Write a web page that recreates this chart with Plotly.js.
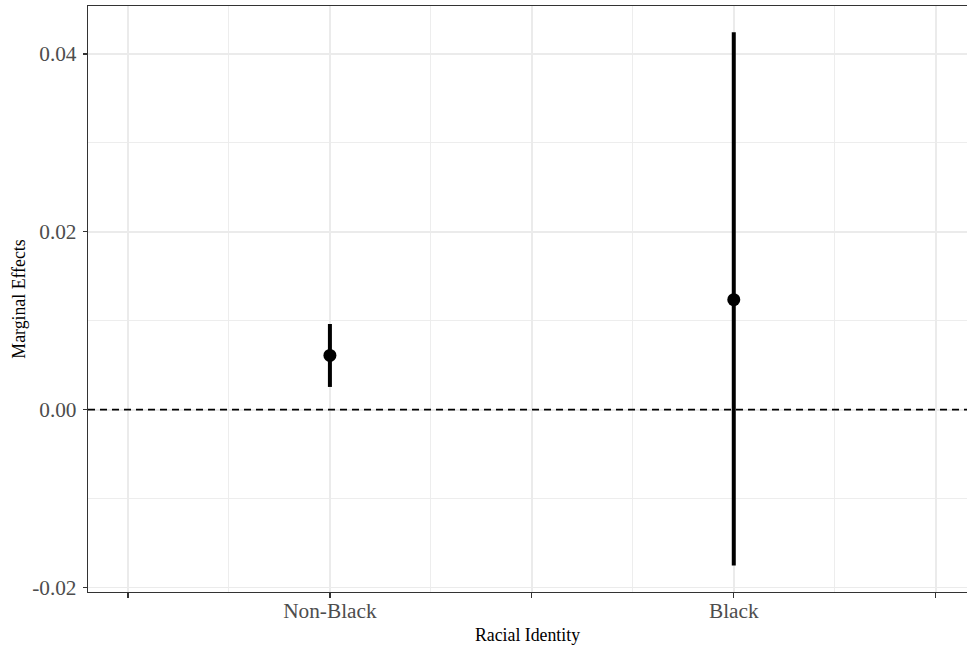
<!DOCTYPE html>
<html>
<head>
<meta charset="utf-8">
<script src="https://cdn.plot.ly/plotly-3.0.1.min.js"></script>
<style>html,body{margin:0;padding:0;background:#fff;}#chart{width:967px;height:647px;}</style>
</head>
<body>
<div id="chart"></div>
<script>
// Data
const categories = ["Non-Black", "Black"];
const positions = [1, 2];
const estimates = [0.0061, 0.01236];
const upper = [0.00963, 0.04244];
const lower = [0.00255, -0.01753];

const xTickVals = [0.5, 1, 1.5, 2, 2.5];
const xTickText = ["", "Non-Black", "", "Black", ""];
const xMinorVals = [0.75, 1.25, 1.75, 2.25];
const yTickVals = [-0.02, 0, 0.02, 0.04];
const yTickText = ["-0.02", "0.00", "0.02", "0.04"];
const yMinorVals = [-0.01, 0.01, 0.03];

const errPlus = estimates.map((v, i) => upper[i] - v);
const errMinus = estimates.map((v, i) => v - lower[i]);

const trace = {
  type: "scatter",
  mode: "markers",
  x: positions,
  y: estimates,
  text: categories,
  marker: {color: "#000000", size: 13},
  error_y: {type: "data", symmetric: false, array: errPlus, arrayminus: errMinus,
            color: "#000000", thickness: 4, width: 0},
  hoverinfo: "text+y",
  showlegend: false
};

const font = "Liberation Serif, Times New Roman, serif";

const layout = {
  width: 967, height: 647,
  margin: {l: 88, r: 0, t: 6, b: 55, pad: 0},
  paper_bgcolor: "#ffffff",
  plot_bgcolor: "#ffffff",
  font: {family: font, color: "#000000"},
  xaxis: {
    range: [0.401, 2.5775],
    tickmode: "array", tickvals: xTickVals, ticktext: xTickText,
    ticks: "outside", ticklen: 5, tickwidth: 1.2, tickcolor: "#333333",
    tickfont: {family: font, size: 21.3, color: "#4d4d4d"},
    ticklabelstandoff: -6,
    showgrid: true, gridcolor: "#ebebeb", gridwidth: 1.8,
    minor: {tickvals: xMinorVals, showgrid: true, gridcolor: "#ebebeb", gridwidth: 0.9, ticks: ""},
    showline: true, linecolor: "#333333", linewidth: 1.2, mirror: true,
    zeroline: false,
    title: {text: "Racial Identity", font: {family: font, size: 17.8, color: "#000000"}, standoff: 6}
  },
  yaxis: {
    range: [-0.02051, 0.04539],
    tickmode: "array", tickvals: yTickVals, ticktext: yTickText,
    ticks: "outside", ticklen: 4, tickwidth: 1.2, tickcolor: "#333333",
    tickfont: {family: font, size: 21.3, color: "#4d4d4d"},
    ticklabelstandoff: 2,
    showgrid: true, gridcolor: "#ebebeb", gridwidth: 1.8,
    minor: {tickvals: yMinorVals, showgrid: true, gridcolor: "#ebebeb", gridwidth: 0.9, ticks: ""},
    showline: true, linecolor: "#333333", linewidth: 1.2, mirror: false,
    zeroline: false,
    title: {text: "Marginal Effects", font: {family: font, size: 17.8, color: "#000000"}, standoff: 2}
  },
  shapes: [{
    type: "line", xref: "paper", x0: 0, x1: 1, yref: "y", y0: 0, y1: 0,
    line: {color: "#000000", width: 1.8, dash: "7px,5px"}, layer: "above"
  }]
};

Plotly.newPlot("chart", [trace], layout, {displayModeBar: false, staticPlot: true});
</script>
</body>
</html>
